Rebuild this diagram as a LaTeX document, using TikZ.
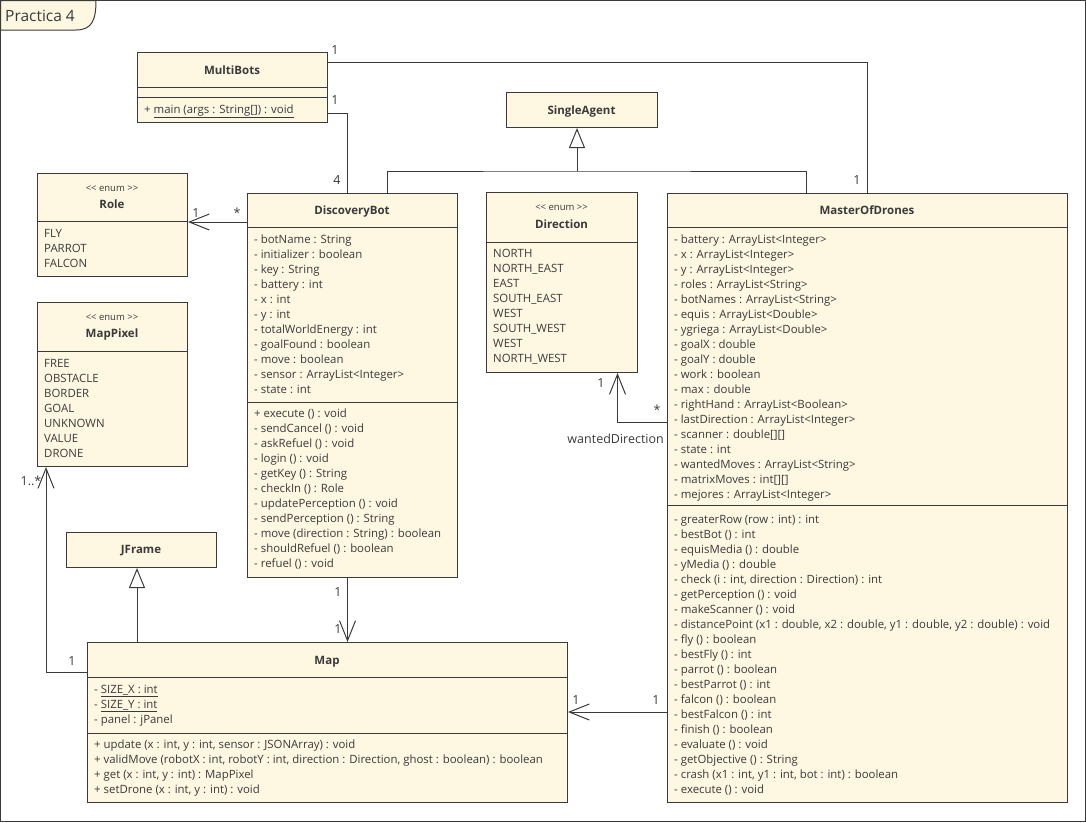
\documentclass[tikz,border=0pt]{standalone}
\usepackage{fontspec}
\setmainfont{Open Sans}
\usetikzlibrary{arrows.meta}
\definecolor{cream}{HTML}{FEF7E2}
\definecolor{ink}{HTML}{3A3A3A}
\tikzset{
  cls/.style={draw=ink, fill=cream, line width=1pt, inner sep=0pt, anchor=north west},
  sep/.style={draw=ink, line width=1pt},
  ttl/.style={font=\fontsize{11.5}{13}\selectfont\bfseries, text=ink, inner sep=0pt, anchor=base},
  ster/.style={font=\fontsize{9.5}{11}\selectfont, text=ink, inner sep=0pt, anchor=base},
  itm/.style={font=\fontsize{11.4}{13}\selectfont, text=ink, inner sep=0pt, anchor=base west},
  conn/.style={draw=ink, line width=1pt},
  assoc/.style={conn, -{Straight Barb[length=20pt, width=16pt]}},
  gen/.style={conn, -{Triangle[open, length=20pt, width=16pt]}},
  mult/.style={font=\fontsize{12.5}{15}\selectfont, text=ink, inner sep=0pt, anchor=base},
}
\begin{document}
\begin{tikzpicture}[x=1pt, y=-1pt]
\useasboundingbox (0,0) rectangle (1086,822);
% frame
\draw[draw=ink, line width=1pt] (0.5,0.5) rectangle (1085.5,821.5);
\path[fill=cream, draw=ink, line width=1pt] (0.5,0.5) -- (96,0.5) .. controls (96,20) and (92,30) .. (76,30) -- (0.5,30) -- cycle;
\node[font=\fontsize{15.5}{17}\selectfont, text=ink, inner sep=0pt, anchor=base west] (frame-t) at (5,21.5) {Practica 4};

% MultiBots
\node[cls, minimum width=190pt, minimum height=70pt] (mb) at (137,52) {};
\draw[sep] (137,87) -- (327,87);
\draw[sep] (137,97) -- (327,97);
\node[ttl] (mb-t) at (232,74) {MultiBots};
\node[itm] (mb-m0) at (144,113) {+ \underline{main (args : String[]) : void}};

% Role
\node[cls, minimum width=150pt, minimum height=103pt] (role) at (37,173) {};
\draw[sep] (37,221) -- (187,221);
\node[ster] (role-s) at (112,191) {<{}< enum >{}>};
\node[ttl] (role-t) at (112,208) {Role};
\foreach \t [count=\i from 0] in {{FLY},{PARROT},{FALCON}}
  \node[itm] (role-a\i) at (44,237+15*\i) {\t};

% MapPixel
\node[cls, minimum width=150pt, minimum height=164pt] (mp) at (37,302) {};
\draw[sep] (37,351) -- (187,351);
\node[ster] (mp-s) at (112,320) {<{}< enum >{}>};
\node[ttl] (mp-t) at (112,337) {MapPixel};
\foreach \t [count=\i from 0] in {{FREE},{OBSTACLE},{BORDER},{GOAL},{UNKNOWN},{VALUE},{DRONE}}
  \node[itm] (mp-a\i) at (44,367+15*\i) {\t};

% JFrame
\node[cls, minimum width=150pt, minimum height=35pt] (jf) at (66,532) {};
\node[ttl] (jf-t) at (141,553) {JFrame};

% SingleAgent
\node[cls, minimum width=151pt, minimum height=35pt] (sa) at (506,92) {};
\node[ttl] (sa-t) at (581.5,114) {SingleAgent};

% Direction
\node[cls, minimum width=151pt, minimum height=180pt] (dir) at (486,192) {};
\draw[sep] (486,242) -- (637,242);
\node[ster] (dir-s) at (561.5,210) {<{}< enum >{}>};
\node[ttl] (dir-t) at (561.5,228) {Direction};
\foreach \t [count=\i from 0] in {{NORTH},{NORTH\_EAST},{EAST},{SOUTH\_EAST},{WEST},{SOUTH\_WEST},{WEST},{NORTH\_WEST}}
  \node[itm] (dir-a\i) at (493,257+15*\i) {\t};

% DiscoveryBot
\node[cls, minimum width=210pt, minimum height=384pt] (db) at (247,193) {};
\draw[sep] (247,227) -- (457,227);
\draw[sep] (247,402) -- (457,402);
\node[ttl] (db-t) at (352,214) {DiscoveryBot};
\foreach \t [count=\i from 0] in {{- botName : String},{- initializer : boolean},{- key : String},{- battery : int},{- x : int},{- y : int},{- totalWorldEnergy : int},{- goalFound : boolean},{- move : boolean},{- sensor : ArrayList<Integer>},{- state : int}}
  \node[itm] (db-a\i) at (254,243+15*\i) {\t};
\foreach \t [count=\i from 0] in {{+ execute () : void},{- sendCancel () : void},{- askRefuel () : void},{- login () : void},{- getKey () : String},{- checkIn () : Role},{- updatePerception () : void},{- sendPerception () : String},{- move (direction : String) : boolean},{- shouldRefuel () : boolean},{- refuel () : void}}
  \node[itm] (db-m\i) at (254,417+15*\i) {\t};

% MasterOfDrones
\node[cls, minimum width=400pt, minimum height=609pt] (mod) at (667,193) {};
\draw[sep] (667,227) -- (1067,227);
\draw[sep] (667,505) -- (1067,505);
\node[ttl] (mod-t) at (867,214) {MasterOfDrones};
\foreach \t [count=\i from 0] in {{- battery : ArrayList<Integer>},{- x : ArrayList<Integer>},{- y : ArrayList<Integer>},{- roles : ArrayList<String>},{- botNames : ArrayList<String>},{- equis : ArrayList<Double>},{- ygriega : ArrayList<Double>},{- goalX : double},{- goalY : double},{- work : boolean},{- max : double},{- rightHand : ArrayList<Boolean>},{- lastDirection : ArrayList<Integer>},{- scanner : double[][]},{- state : int},{- wantedMoves : ArrayList<String>},{- matrixMoves : int[][]},{- mejores : ArrayList<Integer>}}
  \node[itm] (mod-a\i) at (674,243+15*\i) {\t};
\foreach \t [count=\i from 0] in {{- greaterRow (row : int) : int},{- bestBot () : int},{- equisMedia () : double},{- yMedia () : double},{- check (i : int, direction : Direction) : int},{- getPerception () : void},{- makeScanner () : void},{- distancePoint (x1 : double, x2 : double, y1 : double, y2 : double) : void},{- fly () : boolean},{- bestFly () : int},{- parrot () : boolean},{- bestParrot () : int},{- falcon () : boolean},{- bestFalcon () : int},{- finish () : boolean},{- evaluate () : void},{- getObjective () : String},{- crash (x1 : int, y1 : int, bot : int) : boolean},{- execute () : void}}
  \node[itm] (mod-m\i) at (674,523+15*\i) {\t};

% Map
\node[cls, minimum width=480pt, minimum height=160pt] (map) at (87,642) {};
\draw[sep] (87,677) -- (567,677);
\draw[sep] (87,733) -- (567,733);
\node[ttl] (map-t) at (327,664) {Map};
\foreach \t [count=\i from 0] in {{- \underline{SIZE\_X : int}},{- \underline{SIZE\_Y : int}},{- panel : jPanel}}
  \node[itm] (map-a\i) at (94,693+15*\i) {\t};
\foreach \t [count=\i from 0] in {{+ update (x : int, y : int, sensor : JSONArray) : void},{+ validMove (robotX : int, robotY : int, direction : Direction, ghost : boolean) : boolean},{+ get (x : int, y : int) : MapPixel},{+ setDrone (x : int, y : int) : void}}
  \node[itm] (map-m\i) at (94,748+15*\i) {\t};

% connectors
\draw[conn] ([yshift=-10pt]mb.north east) -| (mod.north);
\draw[conn] ([yshift=10pt]mb.south east) -| ([xshift=-5pt]db.north);
\coordinate (gj) at (577,171);
\draw[conn] ([xshift=35pt]db.north) |- (gj) -| ([xshift=-61pt]mod.north);
\draw[gen] (gj) -- (gj |- sa.south);
\coordinate (dbL) at ([yshift=-29pt]db.north west);
\draw[assoc] (dbL) -- (dbL -| role.east);
\coordinate (modD) at ([yshift=-229pt]mod.north west);
\draw[assoc] (modD) -| ([xshift=55.5pt]dir.south);
\coordinate (dbB) at ([xshift=-5pt]db.south);
\draw[assoc] (dbB) -- (dbB |- map.north);
\coordinate (modM) at ([yshift=-519pt]mod.north west);
\draw[assoc] (modM) -- (modM -| map.east);
\coordinate (mapL) at ([yshift=-30pt]map.north west);
\draw[assoc] (mapL) -| ([xshift=9pt]mp.south west);
\coordinate (mapT) at ([xshift=50pt]map.north west);
\draw[gen] (mapT) -- (mapT |- jf.south);

% multiplicities
\node[mult] (l1) at (335,54) {1};
\node[mult] (l2) at (857,184) {1};
\node[mult] (l3) at (335,104) {1};
\node[mult] (l4) at (337,184) {4};
\node[mult] (l5) at (196,217) {1};
\node[mult] (l6) at (237,217) {*};
\node[mult] (l7) at (601,387) {1};
\node[mult] (l8) at (657,414) {*};
\node[mult, anchor=base east] (l9) at (664,443) {wantedDirection};
\node[mult] (l10) at (338,596) {1};
\node[mult] (l11) at (338,633) {1};
\node[mult] (l12) at (576,704) {1};
\node[mult] (l13) at (656,704) {1};
\node[mult] (l14) at (31,485) {1..*};
\node[mult] (l15) at (72,665) {1};
\end{tikzpicture}
\end{document}
